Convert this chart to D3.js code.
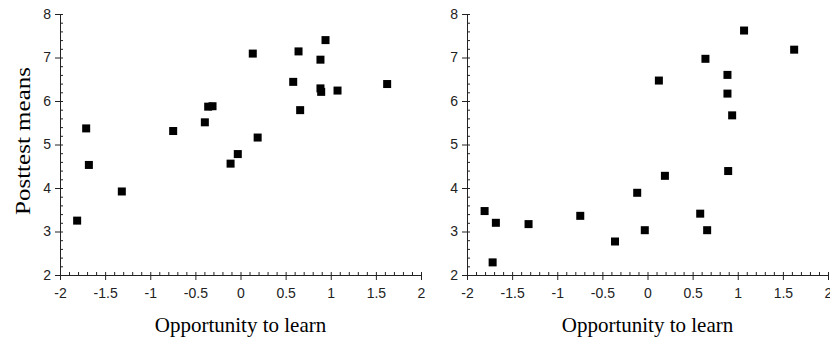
<!DOCTYPE html>
<html>
<head>
<meta charset="utf-8">
<script src="https://cdn.jsdelivr.net/npm/d3@7"></script>
<style>
  body { margin: 0; background: #fff; }
  svg { display: block; }
</style>
</head>
<body>
<div id="chart"></div>
<script>
// data
const oppLeft  = [-1.71, -1.68, -1.81, -1.315, -0.746, -0.395, -0.358, -0.31, -0.11, -0.03, 0.136,
                  0.19, 0.584, 0.643, 0.661, 0.886, 0.886, 0.894, 0.942, 1.075, 1.625];
const postLeft = [5.37, 4.53, 3.25, 3.92, 5.31, 5.51, 5.87, 5.88, 4.56, 4.78, 7.09,
                  5.16, 6.44, 7.14, 5.79, 6.95, 6.29, 6.21, 7.40, 6.24, 6.39];

const oppRight  = [1.07, 1.625, 0.642, 0.126, 0.886, 0.886, 0.938, 0.894, 0.193, -0.114,
                   -1.805, -1.68, -1.318, -0.745, -1.716, -0.36, -0.03, 0.584, 0.661];
const postRight = [7.62, 7.18, 6.97, 6.47, 6.60, 6.17, 5.67, 4.39, 4.28, 3.89,
                   3.47, 3.20, 3.17, 3.36, 2.29, 2.77, 3.03, 3.41, 3.03];

const xTicks = [-2, -1.5, -1, -0.5, 0, 0.5, 1, 1.5, 2];
const yTicks = [2, 3, 4, 5, 6, 7, 8];
const xTitle = "Opportunity to learn";
const yTitle = "Posttest means";

const W = 830, H = 339;
const svg = d3.select("#chart").append("svg")
    .attr("width", W)
    .attr("height", H);

const plotTop = 14, plotBottom = 275, plotW = 361;
const panels = [
    { left: 60, xs: oppLeft, ys: postLeft },
    { left: 467, xs: oppRight, ys: postRight }
];

panels.forEach(p => {
    const g = svg.append("g").attr("transform", `translate(${p.left},0)`);

    const x = d3.scaleLinear().domain([-2, 2]).range([0, plotW]);
    const y = d3.scaleLinear().domain([2, 8]).range([plotBottom, plotTop]);

    // minor ticks, pointing inward
    g.append("g")
        .attr("transform", `translate(0,${plotBottom})`)
        .call(d3.axisBottom(x).tickValues(d3.range(-20, 21).map(d => d / 10)).tickSize(-3).tickFormat(""))
        .call(a => a.select(".domain").remove());
    g.append("g")
        .call(d3.axisLeft(y).tickValues(d3.range(10, 41).map(d => d / 5)).tickSize(-3).tickFormat(""))
        .call(a => a.select(".domain").remove());

    // major ticks + labels
    const xa = g.append("g")
        .attr("transform", `translate(0,${plotBottom})`)
        .call(d3.axisBottom(x).tickValues(xTicks).tickSize(5).tickSizeOuter(0).tickPadding(8).tickFormat(d => String(d)));
    const ya = g.append("g")
        .call(d3.axisLeft(y).tickValues(yTicks).tickSize(5).tickSizeOuter(0).tickPadding(4).tickFormat(d3.format("d")));

    [xa, ya].forEach(a => {
        a.selectAll("text")
            .attr("font-family", "'Liberation Sans', Arial, sans-serif")
            .attr("font-size", "14px")
            .attr("fill", "#222");
        a.selectAll("line, path").attr("stroke", "#222");
    });
    g.selectAll(".tick line").attr("stroke", "#222");

    // points
    g.append("g")
        .selectAll("rect")
        .data(p.xs.map((d, i) => ({ x: d, y: p.ys[i] })))
        .join("rect")
        .attr("x", d => x(d.x) - 4)
        .attr("y", d => y(d.y) - 4)
        .attr("width", 8)
        .attr("height", 8)
        .attr("fill", "#000");

    g.append("text")
        .attr("x", plotW / 2)
        .attr("y", 332)
        .attr("text-anchor", "middle")
        .attr("font-family", "'Liberation Serif', 'Times New Roman', serif")
        .attr("font-size", "21px")
        .text(xTitle);
});

svg.append("text")
    .attr("transform", "translate(30,141) rotate(-90)")
    .attr("text-anchor", "middle")
    .attr("font-family", "'Liberation Serif', 'Times New Roman', serif")
    .attr("font-size", "21px")
    .attr("textLength", 148)
    .attr("lengthAdjust", "spacingAndGlyphs")
    .text(yTitle);
</script>
</body>
</html>
